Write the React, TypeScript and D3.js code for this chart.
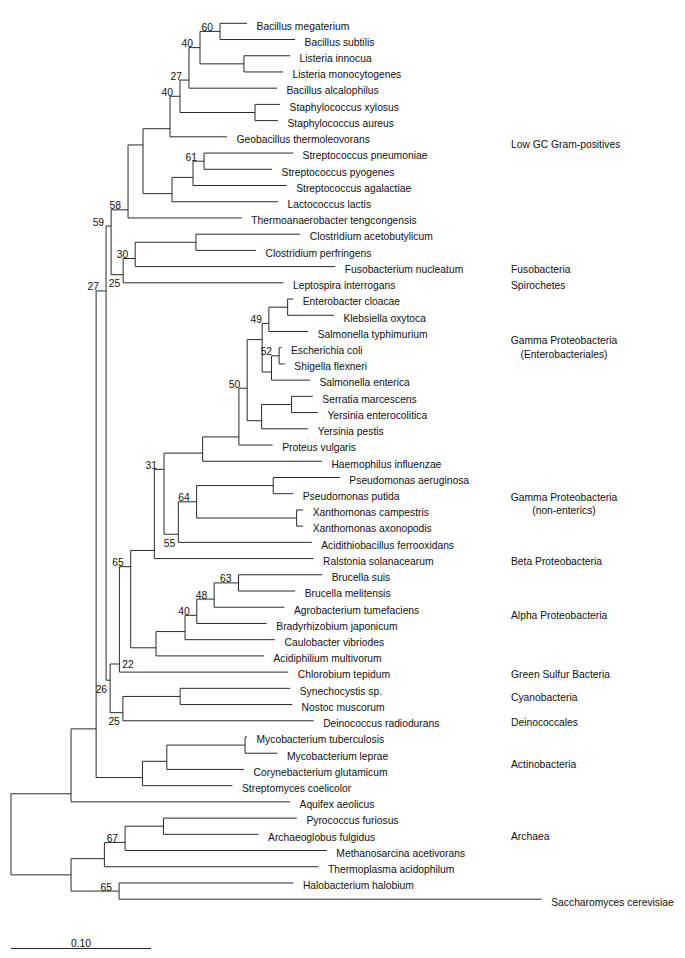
import React, { useMemo } from "react";
import * as d3 from "d3";

// ---- DATA -----------------------------------------------------------------
// Tree in Newick form: leaf names, branch lengths (substitutions/site) and
// bootstrap support values on internal nodes.
const newick = `(
 (
  (
   (
    (
     (
      (
       (
        (
         (
          (
           (Bacillus megaterium:0.0193,Bacillus subtilis:0.0536)60:0.0143,
           (Listeria innocua:0.0329,Listeria monocytogenes:0.0279):0.0314
          )40:0.0079,
          Bacillus alcalophilus:0.0629
         )27:0.0064,
         (Staphylococcus xylosus:0.0179,Staphylococcus aureus:0.0164):0.0536
        )40:0.0071,
        Geobacillus thermoleovorans:0.0407
       ):0.0193,
       (
        (
         (Streptococcus pneumoniae:0.0636,Streptococcus pyogenes:0.0486)61:0.0079,
         Streptococcus agalactiae:0.0669
        ):0.0150,
        Lactococcus lactis:0.0757
       ):0.0207
      ):0.0107,
      Thermoanaerobacter tengcongensis:0.0812
     )58:0.0121,
     (
      (
       (Clostridium acetobutylicum:0.0745,Clostridium perfringens:0.0429):0.0434,
       Fusobacterium nucleatum:0.1429
      )30:0.0086,
      Leptospira interrogans:0.1145
     )25:0.0086
    )59:0.0036,
    (
     (
      (
       (
        (
         (
          (
           (
            (
             ((Enterobacter cloacae:0.0040,Klebsiella oxytoca:0.0331):0.0134,Salmonella typhimurium:0.0281)49:0.0048,
             ((Escherichia coli:0.0017,Shigella flexneri:0.0041)52:0.0054,Salmonella enterica:0.0274):0.0067
            ):0.0107,
            ((Serratia marcescens:0.0152,Yersinia enterocolitica:0.0188):0.0214,Yersinia pestis:0.0333):0.0103
           )50:0.0059,
           Proteus vulgaris:0.0241
          ):0.0259,
          Haemophilus influenzae:0.0852
         ):0.0276,
         (
          (
           (Pseudomonas aeruginosa:0.0476,Pseudomonas putida:0.0143):0.0547,
           (Xanthomonas campestris:0.0047,Xanthomonas axonopodis:0.0047):0.0714
          )64:0.0131,
          Acidithiobacillus ferrooxidans:0.0953
         )55:0.0102
        )31:0.0069,
        Ralstonia solanacearum:0.1137
       ):0.0169,
       (
        (
         (
          (
           (Brucella suis:0.0598,Brucella melitensis:0.0405)63:0.0174,
           Agrobacterium tumefaciens:0.0502
          )48:0.0124,
          Bradyrhizobium japonicum:0.0500
         )40:0.0084,
         Caulobacter vibriodes:0.0643
        ):0.0207,
        Acidiphilium multivorum:0.0771
       ):0.0181
      )65:0.0081,
      Chlorobium tepidum:0.1207
     )22:0.0066,
     (
      (Synechocystis sp.:0.0786,Nostoc muscorum:0.0800):0.0409,
      Deinococcus radiodurans:0.1363
     )25:0.0091
    )26:0.0029
   )27:0.0071,
   (
    ((Mycobacterium tuberculosis:0.0014,Mycobacterium leprae:0.0231):0.0559,Corynebacterium glutamicum:0.0552):0.0174,
    Streptomyces coelicolor:0.0643
   ):0.0331
  ):0.0179,
  Aquifex aeolicus:0.1564
 ):0.0429,
 (
  (
   (
    (Pyrococcus furiosus:0.0953,Archaeoglobus fulgidus:0.0679):0.0274,
    Methanosarcina acetivorans:0.1441
   )67:0.0148,
   Thermoplasma acidophilum:0.1529
  ):0.0238,
  (Halobacterium halobium:0.1245,Saccharomyces cerevisiae:0.3019)65:0.0343
 ):0.0429
);`;

// Group names shown on the right, with the leaf row they sit against.
const cladeNames = [
  ["Low GC Gram-positives"],
  ["Fusobacteria"],
  ["Spirochetes"],
  ["Gamma Proteobacteria", "(Enterobacteriales)"],
  ["Gamma Proteobacteria", "(non-enterics)"],
  ["Beta Proteobacteria"],
  ["Alpha Proteobacteria"],
  ["Green Sulfur Bacteria"],
  ["Cyanobacteria"],
  ["Deinococcales"],
  ["Actinobacteria"],
  ["Archaea"],
];
const cladeRows = [7.3, 15, 16, 19.41, 29.06, 33, 36.32, 39.95, 41.4, 42.95, 45.51, 49.94];

// Support labels whose placement differs from the default (keyed by last leaf).
const supportOverrides = [
  { support: "65", lastLeaf: "Saccharomyces cerevisiae", place: "above" },
  { support: "22", lastLeaf: "Chlorobium tepidum", place: "right" },
];

const scaleBarValue = 0.1;
const scaleBarLabel = "0.10";

// ---- PARSER -----------------------------------------------------------------
type TNode = { name: string; length: number; children: TNode[] };

function parseNewick(src: string): TNode {
  const s = src.replace(/\s*([(),:;])\s*/g, "$1").trim();
  let i = 0;
  function parseNode(): TNode {
    const node: TNode = { name: "", length: 0, children: [] };
    if (s[i] === "(") {
      i++;
      node.children.push(parseNode());
      while (s[i] === ",") {
        i++;
        node.children.push(parseNode());
      }
      i++; // ')'
    }
    let name = "";
    while (i < s.length && !":,();".includes(s[i])) name += s[i++];
    node.name = name.trim();
    if (s[i] === ":") {
      i++;
      let num = "";
      while (i < s.length && !",();".includes(s[i])) num += s[i++];
      node.length = parseFloat(num);
    }
    return node;
  }
  return parseNode();
}

// ---- COMPONENT ---------------------------------------------------------------
const W = 685;
const H = 958;
const FONT = "'Liberation Sans', Arial, Helvetica, sans-serif";
const FS = 10.3;
const STROKE = "#2a2a2a";

export default function App() {
  const layout = useMemo(() => {
    const root = d3.hierarchy<TNode>(parseNewick(newick), (d) =>
      d.children.length ? d.children : null
    );
    const leaves = root.leaves();
    const x = d3.scaleLinear().domain([0, 0.1]).range([11, 151]);
    const y = d3.scaleLinear().domain([0, leaves.length - 1]).range([23.3, 899.2]);

    const dist = new Map<any, number>();
    root.eachBefore((n: any) => {
      dist.set(n, n.parent ? (dist.get(n.parent) as number) + n.data.length : 0);
    });
    const idxMin = new Map<any, number>();
    const idxMax = new Map<any, number>();
    const yPos = new Map<any, number>();
    leaves.forEach((l, i) => {
      idxMin.set(l, i);
      idxMax.set(l, i);
      yPos.set(l, y(i));
    });
    root.eachAfter((n: any) => {
      if (n.children) {
        idxMin.set(n, idxMin.get(n.children[0]));
        idxMax.set(n, idxMax.get(n.children[n.children.length - 1]));
        const a = idxMax.get(n.children[0]) as number;
        const b = idxMin.get(n.children[n.children.length - 1]) as number;
        yPos.set(n, y((a + b) / 2));
      }
    });
    return { root, leaves, x, y, dist, yPos };
  }, []);

  const { root, leaves, x, y, dist, yPos } = layout;
  const nodes = root.descendants();
  const X = (n: any) => x(dist.get(n) as number);
  const Y = (n: any) => yPos.get(n) as number;

  const supportLabels = nodes
    .filter((n: any) => n.children && n.data.name)
    .map((n: any) => {
      const lv = n.leaves();
      const last = lv[lv.length - 1].data.name;
      const ov = supportOverrides.find(
        (o) => o.support === n.data.name && o.lastLeaf === last
      );
      const isFirst = n.parent && n.parent.children[0] === n;
      const place = ov ? ov.place : isFirst ? "above" : "below";
      return { n, place };
    });

  return (
    <svg
      width={W}
      height={H}
      style={{ position: "absolute", left: 0, top: 0, background: "#fff" }}
      fontFamily={FONT}
      fontSize={FS}
    >
      <g stroke={STROKE} strokeWidth={1} fill="none">
        {nodes
          .filter((n: any) => n.parent)
          .map((n: any, i: number) => (
            <line key={"h" + i} x1={X(n.parent)} x2={X(n)} y1={Y(n)} y2={Y(n)} />
          ))}
        {nodes
          .filter((n: any) => n.children)
          .map((n: any, i: number) => (
            <line
              key={"v" + i}
              x1={X(n)}
              x2={X(n)}
              y1={Y(n.children[0])}
              y2={Y(n.children[n.children.length - 1])}
            />
          ))}
      </g>
      <g fill="#111">
        {leaves.map((l: any, i: number) => (
          <text key={"l" + i} x={X(l) + 9.5} y={Y(l) + 6.3}>
            {l.data.name}
          </text>
        ))}
      </g>
      <g fill="#111">
        {supportLabels.map(({ n, place }, i) => {
          if (place === "right")
            return (
              <text key={"s" + i} x={X(n) + 3} y={Y(n) + 4}>
                {n.data.name}
              </text>
            );
          if (place === "below")
            return (
              <text key={"s" + i} x={X(n) - 3} y={Y(n) + 12.5} textAnchor="end">
                {n.data.name}
              </text>
            );
          return (
            <text key={"s" + i} x={X(n) - 7} y={Y(n) - 0.5} textAnchor="end">
              {n.data.name}
            </text>
          );
        })}
      </g>
      <g fill="#111">
        {cladeNames.map((lines, i) => {
          const base = y(cladeRows[i]) + 6.3;
          if (lines.length === 1)
            return (
              <text key={"c" + i} x={511} y={base}>
                {lines[0]}
              </text>
            );
          return (
            <text key={"c" + i} x={564} y={base} textAnchor="middle">
              {lines.map((t, j) => (
                <tspan key={j} x={564} dy={j === 0 ? 0 : 13.3}>
                  {t}
                </tspan>
              ))}
            </text>
          );
        })}
      </g>
      <g>
        <line
          x1={x(0)}
          x2={x(scaleBarValue)}
          y1={948.5}
          y2={948.5}
          stroke={STROKE}
          strokeWidth={1}
        />
        <text
          x={(x(0) + x(scaleBarValue)) / 2}
          y={946.5}
          textAnchor="middle"
          fill="#111"
        >
          {scaleBarLabel}
        </text>
      </g>
    </svg>
  );
}
